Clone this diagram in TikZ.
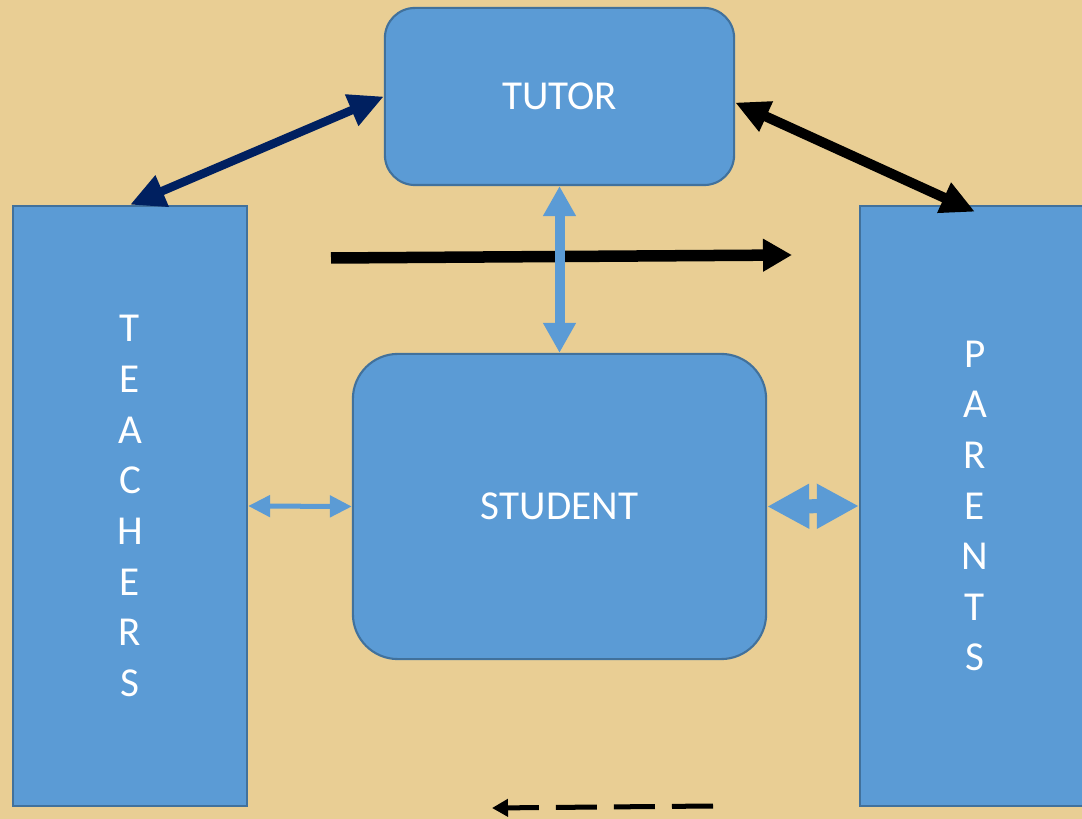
\documentclass[tikz,border=0pt]{standalone}
\usepackage{fontspec}
\setmainfont{Carlito}
\usetikzlibrary{arrows.meta}
\definecolor{boxblue}{RGB}{91,155,213}
\definecolor{boxline}{RGB}{65,113,156}
\definecolor{navyline}{RGB}{0,32,96}
\definecolor{paper}{RGB}{233,206,148}

\begin{document}
\begin{tikzpicture}[x=0.01cm,y=-0.01cm,
	box/.style={draw=boxline,line width=0.6pt,fill=boxblue,text=white,
		font=\fontsize{11.7}{14.4}\selectfont,align=center,inner sep=0pt},
	navylink/.style={draw=navyline,line width=0.085cm,
		{Triangle[length=0.35cm,width=0.32cm]}-{Triangle[length=0.35cm,width=0.32cm]}},
	blacklink/.style={draw=black,line width=0.1cm,
		{Triangle[length=0.34cm,width=0.31cm]}-{Triangle[length=0.34cm,width=0.31cm]}},
	bluelink/.style={draw=boxblue,line width=0.1cm,
		{Triangle[length=0.3cm,width=0.31cm]}-{Triangle[length=0.3cm,width=0.31cm]}}]
	%%Background
	\fill[paper] (0,0) rectangle (1082,819);
	\useasboundingbox (0,0) rectangle (1082,819);
	%%Boxes
	\node[box,rounded corners=0.3cm,minimum width=3.49cm,minimum height=1.77cm] (tutor) at (559.5,96.5) {TUTOR};
	\node[box,rounded corners=0.45cm,minimum width=4.13cm,minimum height=3.05cm] (student) at (559.5,506.5) {STUDENT};
	\node[box,minimum width=2.34cm,minimum height=6cm] (teachers) at (130,506) {T\\E\\A\\C\\H\\E\\R\\S};
	\node[box,minimum width=2.3cm,minimum height=6cm] (parents) at (975,506) {P\\A\\R\\E\\N\\T\\S};
	%%Free ends
	\coordinate (flowL) at (331,258);
	\coordinate (flowR) at (792,255);
	\coordinate (backR) at (713,806);
	\coordinate (backL) at (492,808);
	%%Arrows
	\draw[navylink] (teachers.north) -- (tutor.west);
	\draw[blacklink] ([yshift=-0.06cm]tutor.east) -- ([yshift=-0.07cm]parents.north);
	\draw[draw=black,line width=0.115cm,-{Triangle[length=0.29cm,width=0.31cm]}] (flowL) -- (flowR);
	\draw[bluelink] (tutor.south) -- (student.north);
	\draw[draw=boxblue,line width=0.05cm,{Triangle[length=0.22cm,width=0.21cm]}-{Triangle[length=0.22cm,width=0.21cm]}] (teachers.east) -- (student.west);
	\draw[draw=boxblue,line width=0.14cm,{Triangle[length=0.42cm,width=0.42cm]}-{Triangle[length=0.42cm,width=0.42cm]}] (student.east) -- (parents.west);
	\draw[draw=black,line width=0.05cm,dash pattern=on 0.41cm off 0.17cm,-{Triangle[length=0.16cm,width=0.17cm]}] (backR) -- (backL);
\end{tikzpicture}
\end{document}
